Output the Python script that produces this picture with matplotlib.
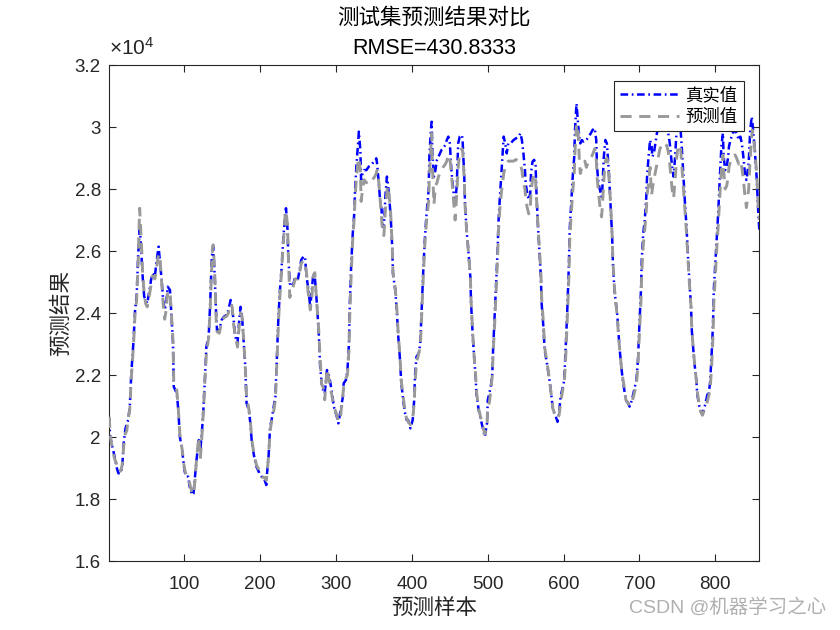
import numpy as np
import matplotlib
matplotlib.use("Agg")
import matplotlib.pyplot as plt
from matplotlib.ticker import FuncFormatter

plt.rcParams['font.family'] = ['Liberation Sans', 'Noto Sans CJK SC', 'DejaVu Sans']
plt.rcParams['lines.scale_dashes'] = False

TITLE_1 = "测试集预测结果对比"
TITLE_2 = "RMSE=430.8333"
X_LABEL = "预测样本"
Y_LABEL = "预测结果"
LEGEND_LABELS = ["真实值", "预测值"]
WATERMARK = "CSDN @机器学习之心"

# sample positions (shared by both series)
sample_idx = [
    1, 2, 5, 8, 11, 13, 16, 18, 20, 22, 24, 26, 28, 30, 33, 35, 37, 39, 41, 42,
    44, 45, 47, 49, 51, 54, 56, 58, 61, 63, 66, 68, 70, 72, 74, 76, 78, 81, 83, 85,
    86, 90, 92, 94, 97, 100, 102, 105, 107, 110, 112, 114, 116, 119, 121, 123, 125, 127, 129, 132,
    134, 136, 137, 138, 140, 142, 143, 146, 149, 152, 156, 158, 161, 163, 165, 167, 170, 172, 174, 176,
    178, 180, 182, 185, 187, 189, 192, 195, 199, 202, 205, 208, 209, 211, 213, 215, 217, 220, 222, 224,
    226, 228, 230, 233, 234, 236, 237, 239, 241, 244, 246, 249, 252, 254, 257, 259, 261, 263, 266, 268,
    270, 272, 274, 277, 279, 281, 283, 285, 288, 291, 294, 297, 301, 303, 306, 309, 310, 313, 315, 317,
    318, 320, 322, 324, 325, 327, 329, 330, 332, 333, 335, 337, 340, 343, 346, 348, 351, 353, 354, 356,
    358, 360, 361, 363, 365, 367, 368, 370, 372, 374, 375, 378, 380, 382, 384, 386, 389, 391, 393, 395,
    398, 401, 403, 404, 406, 409, 411, 413, 415, 417, 419, 422, 423, 425, 426, 427, 429, 431, 433, 435,
    437, 439, 441, 444, 446, 448, 450, 452, 455, 457, 459, 461, 463, 466, 467, 469, 470, 472, 474, 477,
    478, 480, 482, 484, 485, 488, 491, 493, 496, 499, 500, 502, 504, 506, 507, 509, 511, 513, 514, 516,
    518, 520, 521, 523, 525, 527, 530, 534, 537, 541, 543, 545, 547, 549, 550, 552, 554, 556, 557, 559,
    561, 563, 564, 566, 568, 570, 571, 573, 575, 578, 580, 582, 584, 586, 589, 592, 594, 596, 598, 600,
    601, 603, 605, 607, 608, 610, 612, 614, 615, 617, 619, 621, 622, 624, 626, 628, 630, 633, 636, 638,
    641, 643, 644, 646, 648, 650, 651, 653, 655, 657, 658, 660, 662, 664, 665, 667, 669, 671, 672, 674,
    676, 678, 680, 682, 685, 687, 690, 692, 694, 696, 698, 700, 702, 703, 705, 707, 709, 710, 712, 714,
    716, 717, 719, 723, 727, 732, 736, 738, 740, 743, 745, 747, 749, 751, 754, 756, 758, 760, 762, 764,
    766, 768, 769, 771, 773, 775, 776, 779, 781, 783, 786, 788, 790, 791, 793, 795, 797, 798, 800, 802,
    804, 806, 808, 810, 811, 813, 815, 817, 818, 820, 823, 826, 828, 831, 833, 835, 837, 839, 841, 844,
    846, 848, 849, 851, 853, 855, 856, 858,
]

true_vals = [
    20600, 20010, 19690, 19370, 18990, 18830, 18830, 19040, 19800, 20230, 20440, 20550, 20980, 22050, 23130, 24100, 24530, 25820, 26680, 26460,
    25600, 25170, 24530, 24420, 24310, 24740, 25060, 25280, 25170, 25600, 26140, 25600, 25060, 24420, 24100, 24310, 24850, 24740, 23880, 23020,
    21620, 21410, 20870, 20010, 19580, 18940, 18720, 18720, 18400, 18130, 18180, 18720, 19260, 19900, 19580, 20120, 20870, 21840, 22910, 23240,
    24310, 25710, 26030, 26140, 25170, 23880, 23450, 23450, 23770, 23880, 23940, 24100, 24420, 24100, 23770, 23240, 23020, 23670, 24200, 23880,
    23130, 22380, 21090, 20870, 20440, 19800, 19370, 19040, 18830, 18720, 18670, 18450, 18830, 19370, 20330, 20550, 20870, 21300, 22590, 23880,
    24740, 25390, 26250, 27220, 27380, 26680, 25820, 24960, 24850, 24960, 25170, 25010, 25390, 25710, 25820, 25820, 25170, 24850, 24200, 24740,
    25280, 25170, 24530, 23450, 22270, 21730, 21520, 21410, 22160, 21950, 21520, 20980, 20660, 20440, 20870, 21300, 21730, 21840, 22160, 23020,
    24200, 25600, 26570, 27220, 27970, 28830, 29470, 29850, 29260, 28290, 28510, 28610, 28610, 28720, 28770, 28830, 28880, 28990, 28830, 28290,
    27650, 27320, 26790, 26790, 27750, 28400, 28240, 27750, 27110, 26140, 25280, 24740, 24100, 23240, 22590, 21730, 21090, 20760, 20550, 20550,
    20280, 20550, 21190, 21950, 22590, 22700, 23020, 24200, 25390, 26360, 27110, 27970, 29040, 29900, 30170, 29150, 28400, 28610, 28940, 29040,
    29150, 29260, 29310, 29420, 29580, 29690, 29470, 28610, 27860, 27540, 28080, 29470, 29690, 29740, 29470, 28400, 27540, 26680, 26140, 25170,
    24310, 23340, 22590, 21950, 21410, 20870, 20550, 20330, 20010, 20440, 21190, 21410, 21620, 22050, 22810, 23880, 24960, 26030, 26890, 27750,
    28510, 29260, 29690, 29470, 29150, 29470, 29470, 29580, 29630, 29690, 29800, 29580, 29150, 28610, 28180, 27860, 27650, 27860, 28510, 28880,
    28940, 28830, 27970, 26890, 26030, 25170, 24310, 23670, 22810, 22380, 22050, 21730, 21300, 20870, 20710, 20490, 20760, 21300, 21520, 21730,
    21950, 23020, 24200, 25600, 26680, 27540, 28400, 29040, 29900, 30760, 30120, 29580, 29470, 29580, 29530, 29580, 29580, 29690, 29800, 29900,
    29960, 29580, 28720, 28180, 27970, 27750, 27970, 29040, 29580, 29470, 29150, 28400, 27430, 26460, 25600, 24740, 24310, 23880, 23450, 22810,
    22270, 21840, 21520, 21190, 21090, 20980, 21190, 21410, 21620, 21840, 22480, 23670, 24740, 25710, 26570, 27000, 27750, 28400, 29040, 29580,
    29370, 29040, 29150, 29800, 30120, 30120, 30010, 29800, 29470, 28720, 28400, 29040, 29900, 30120, 30010, 29260, 28400, 27540, 26790, 25820,
    24960, 24200, 23450, 22810, 22270, 21840, 21410, 20980, 20820, 20760, 20980, 21190, 21410, 21350, 21730, 22590, 23670, 24740, 25600, 26460,
    27320, 28400, 29370, 29800, 29040, 28610, 28720, 29040, 29370, 29580, 29800, 29900, 29800, 29580, 29690, 29470, 29040, 28510, 28290, 28830,
    29900, 30330, 30120, 29580, 28940, 28180, 27540, 26680,
]

pred_vals = [
    20650, 20100, 19600, 19300, 19100, 18900, 18900, 19100, 19700, 20100, 20200, 20600, 20900, 21900, 23000, 24000, 24400, 25600, 27380, 26900,
    25900, 25300, 24600, 24300, 24200, 24600, 24900, 25200, 25100, 25400, 25900, 25700, 25000, 24300, 23800, 24100, 24700, 24700, 23900, 23100,
    21800, 21500, 20900, 20100, 19600, 19000, 18800, 18700, 18500, 18200, 18150, 18600, 19300, 20000, 19300, 20000, 20800, 21800, 22700, 23200,
    24100, 25500, 26100, 26200, 25300, 23700, 23400, 23350, 23700, 23850, 23900, 24000, 24300, 24200, 23600, 23300, 22900, 23500, 24000, 23900,
    23200, 22400, 21300, 20900, 20500, 19900, 19400, 19100, 18900, 18700, 18700, 18600, 18800, 19400, 20200, 20500, 20700, 21200, 22400, 23700,
    24600, 25300, 26100, 27200, 27300, 26800, 25900, 24500, 24700, 24900, 25100, 25100, 25300, 25600, 25700, 25600, 25300, 24700, 24100, 24500,
    25200, 25300, 24500, 23500, 22500, 21700, 21600, 21200, 22200, 21800, 21400, 21000, 20700, 20500, 20700, 21400, 21600, 21900, 22000, 22800,
    23900, 25300, 26400, 27100, 27700, 28400, 28900, 29000, 28600, 27600, 28000, 28300, 28200, 28300, 28250, 28300, 28400, 28500, 28600, 28300,
    27700, 27000, 26700, 26500, 27300, 27900, 28100, 27800, 27200, 26200, 25300, 24800, 24200, 23300, 22700, 21800, 21200, 20800, 20600, 20500,
    20400, 20600, 21100, 21700, 22400, 22700, 22900, 24000, 25200, 26200, 26900, 27600, 28400, 29300, 29800, 28800, 27500, 28100, 28200, 28400,
    28500, 28600, 28700, 28800, 28900, 29100, 29000, 28500, 27600, 27000, 27800, 28700, 29200, 29300, 29200, 28300, 27500, 26700, 26100, 25200,
    24400, 23400, 22600, 22000, 21500, 20900, 20600, 20400, 20100, 20300, 21000, 21100, 21500, 22000, 22700, 23600, 24700, 25800, 26600, 27400,
    27900, 28300, 28500, 28700, 28800, 28900, 28900, 28900, 28950, 28900, 28800, 28600, 28200, 28000, 27700, 27400, 27200, 27300, 27900, 28300,
    28500, 28300, 27800, 26900, 26100, 25300, 24500, 23800, 22900, 22400, 22100, 21700, 21300, 20900, 20700, 20600, 20700, 21100, 21400, 21700,
    21800, 22700, 23900, 25200, 26300, 27200, 27900, 28500, 29200, 30100, 29900, 28800, 28500, 28700, 28800, 28900, 28700, 28900, 29000, 29100,
    29300, 29000, 28400, 27900, 27400, 27100, 27400, 28300, 28900, 29000, 28900, 28300, 27500, 26500, 25700, 24800, 24300, 23800, 23400, 22800,
    22300, 21900, 21600, 21200, 21100, 21000, 21100, 21300, 21500, 21700, 22300, 23400, 24400, 25300, 26200, 26700, 27300, 27800, 28200, 28700,
    27800, 28000, 28300, 28800, 29300, 29500, 29400, 29200, 28800, 28000, 27700, 28300, 29000, 29400, 29400, 28700, 28000, 27300, 26600, 25700,
    24900, 24200, 23500, 22800, 22300, 21800, 21500, 21000, 20800, 20700, 20900, 21000, 21200, 21300, 21500, 22200, 23300, 24300, 25200, 26100,
    26900, 27800, 28600, 29100, 28600, 28000, 28100, 28400, 28700, 28900, 29000, 29100, 29000, 28800, 28900, 28700, 28300, 27800, 27400, 28000,
    29000, 29700, 29900, 29500, 29000, 28300, 27700, 27000,
]

x_ticks = [100, 200, 300, 400, 500, 600, 700, 800]
y_ticks = [16000, 18000, 20000, 22000, 24000, 26000, 28000, 30000, 32000]

AX_COLOR = '#262626'


def main():
    fig = plt.figure(figsize=(8.4, 6.3), dpi=100)
    ax = fig.add_axes([109.3 / 840, 69 / 630, 650 / 840, 496 / 630])

    # true values first (legend order), predictions drawn over them like MATLAB does
    ax.plot(sample_idx, true_vals, color=(0, 0, 1), lw=1.8, linestyle=(0, (5.5, 2.6, 1.2, 2.6)),
            label=LEGEND_LABELS[0], zorder=2)
    ax.plot(sample_idx, pred_vals, color='#999999', lw=2.1, linestyle=(0, (8.0, 5.5)),
            label=LEGEND_LABELS[1], zorder=3)

    ax.set_xlim(1, 858)
    ax.set_ylim(16000, 32000)
    ax.set_xticks(x_ticks)
    ax.set_yticks(y_ticks)
    ax.yaxis.set_major_formatter(FuncFormatter(lambda v, p: f"{v / 1e4:g}"))
    ax.tick_params(direction='in', length=5, width=0.8, top=True, right=True,
                   labelsize=13.5, colors=AX_COLOR)
    ax.tick_params(axis='x', pad=11)
    ax.tick_params(axis='y', pad=6)
    for s in ax.spines.values():
        s.set_color(AX_COLOR)
        s.set_linewidth(0.8)

    ax.text(0.0, 1.012, r'$\mathregular{\times10^{4}}$', transform=ax.transAxes,
            fontsize=15, color=AX_COLOR, ha='left', va='bottom')

    fig.text(434 / 840, 1 - 18 / 630, TITLE_1, ha='center', va='center', fontsize=15.5, color='black')
    fig.text(434 / 840, 1 - 49 / 630, TITLE_2, ha='center', va='center', fontsize=15.5, color='black')
    fig.text(434 / 840, 1 - 608 / 630, X_LABEL, ha='center', va='center', fontsize=15.5, color=AX_COLOR)
    fig.text(62 / 840, 1 - 313 / 630, Y_LABEL, ha='center', va='center', rotation=90,
             fontsize=15.5, color=AX_COLOR)

    leg = ax.legend(loc='upper right', fontsize=12.5, frameon=True, fancybox=False,
                    edgecolor=AX_COLOR, framealpha=1, handlelength=3.4, handletextpad=0.35,
                    labelspacing=0.3, borderpad=0.35, borderaxespad=0.9)
    leg.get_frame().set_linewidth(0.8)
    leg.set_zorder(5)

    fig.text(826 / 840, 1 - 608 / 630, WATERMARK, ha='right', va='center', fontsize=14, color='#b0b0b0')

    fig.savefig('out.png', dpi=100)
    plt.close(fig)


if __name__ == "__main__":
    main()
